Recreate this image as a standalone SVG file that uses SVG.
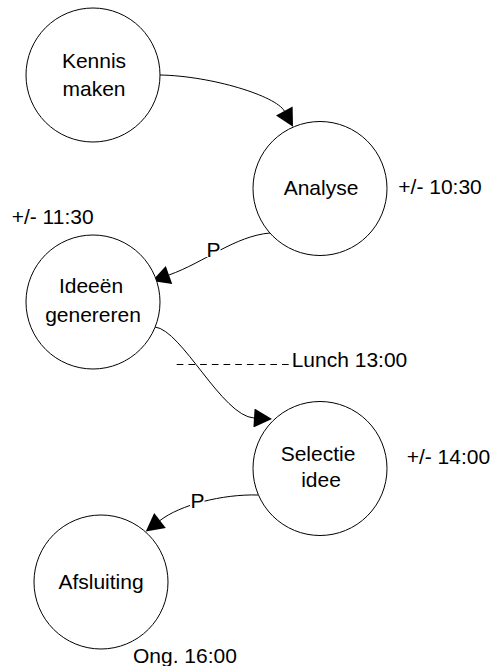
<svg xmlns="http://www.w3.org/2000/svg" width="491" height="666" viewBox="0 0 491 666">
<style>
.node circle{fill:#fff;stroke:#000;stroke-width:1}
text{font-family:"Liberation Sans",Arial,sans-serif;font-size:21px;fill:#000}
.c{text-anchor:middle}
.edge{fill:none;stroke:#000;stroke-width:1}
.dash{stroke:#000;stroke-width:1;stroke-dasharray:6.7 5}
</style>
<defs>
<marker id="arr" markerUnits="userSpaceOnUse" markerWidth="19" markerHeight="19" viewBox="0 0 18 19" refX="0" refY="9.5" orient="auto">
<path d="M0,0 L18,9.5 L0,19 Z" fill="#000"/>
</marker>
</defs>
<rect width="491" height="666" fill="#fff"/>
<g id="connectors">
<path class="edge" d="M160,75 C212,76 276,96 284.3,111" marker-end="url(#arr)"/>
<path class="edge" d="M270,233 C235,236 205,262 169,275" marker-end="url(#arr)"/>
<path class="edge" d="M155,327 C182,330 222,416 254,418" marker-end="url(#arr)"/>
<path class="edge" d="M258,495 C222,494 180,505 160,520.5" marker-end="url(#arr)"/>
<rect x="206" y="242" width="14.5" height="15" fill="#fff"/>
<text x="206.5" y="256.7">P</text>
<rect x="190" y="493.5" width="14.5" height="14.5" fill="#fff"/>
<text x="190.5" y="508">P</text>
</g>
<g id="lunch">
<line class="dash" x1="176.7" y1="364.5" x2="291" y2="364.5"/>
<text x="291.7" y="367.3">Lunch 13:00</text>
</g>
<g id="kennis" class="node">
<circle cx="93" cy="75" r="67"/>
<text class="c" x="94" y="68">Kennis</text>
<text class="c" x="94" y="95.5">maken</text>
</g>
<g id="analyse" class="node">
<circle cx="320" cy="188.5" r="67"/>
<text class="c" x="321" y="195">Analyse</text>
</g>
<g id="ideeen" class="node">
<circle cx="93" cy="302" r="67"/>
<text class="c" x="91" y="293.3">Ideeën</text>
<text class="c" x="93" y="321.7">genereren</text>
</g>
<g id="selectie" class="node">
<circle cx="320" cy="468.5" r="67"/>
<text class="c" x="318" y="460.7">Selectie</text>
<text class="c" x="321" y="487.3">idee</text>
</g>
<g id="afsluiting" class="node">
<circle cx="101" cy="582" r="67"/>
<text class="c" x="101" y="589.3">Afsluiting</text>
</g>
<g id="times">
<text x="398.3" y="194">+/- 10:30</text>
<text x="11.7" y="224.3">+/- 11:30</text>
<text x="406.7" y="464.3">+/- 14:00</text>
<text x="133" y="662.7">Ong. 16:00</text>
</g>
</svg>
